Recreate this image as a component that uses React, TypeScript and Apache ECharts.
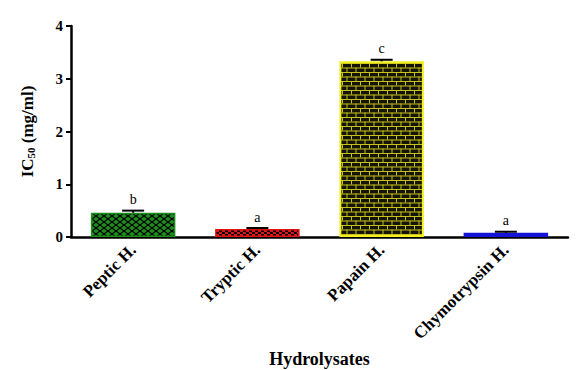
import React, { useEffect, useRef } from "react";
import * as echarts from "echarts";

const categories = ["Peptic H.", "Tryptic H.", "Papain H.", "Chymotrypsin H."];
const means = [0.46, 0.15, 3.33, 0.08];
const errors = [0.04, 0.02, 0.03, 0.02];
const letters = ["b", "a", "c", "a"];
const yTicks = [0, 1, 2, 3, 4];

const FONT = "'Liberation Serif', 'Times New Roman', serif";

function makeTile(w: number, h: number, draw: (c: CanvasRenderingContext2D) => void) {
  const cv = document.createElement("canvas");
  cv.width = w;
  cv.height = h;
  const ctx = cv.getContext("2d")!;
  draw(ctx);
  return cv;
}

function patterns() {
  const diamond = makeTile(8, 6, (c) => {
    c.fillStyle = "#1e8c1e";
    c.fillRect(0, 0, 8, 6);
    c.strokeStyle = "#000";
    c.lineWidth = 1.1;
    c.beginPath();
    c.moveTo(0, 0);
    c.lineTo(8, 6);
    c.moveTo(0, 6);
    c.lineTo(8, 0);
    c.stroke();
  });
  const checker = makeTile(6, 4, (c) => {
    c.fillStyle = "#e01414";
    c.fillRect(0, 0, 6, 4);
    c.fillStyle = "#000";
    c.fillRect(0, 0, 3, 2);
    c.fillRect(3, 2, 3, 2);
  });
  const brick = makeTile(9, 9, (c) => {
    c.fillStyle = "#151505";
    c.fillRect(0, 0, 9, 9);
    c.fillStyle = "#c8c020";
    c.fillRect(0, 0, 9, 1);
    c.fillRect(0, 4.5, 9, 1);
    c.fillRect(0, 0, 1, 4.5);
    c.fillRect(4.5, 4.5, 1, 4.5);
  });
  const dots = makeTile(7, 6, (c) => {
    c.fillStyle = "#1414d8";
    c.fillRect(0, 0, 7, 6);
    c.fillStyle = "#000050";
    c.fillRect(2, 2, 2, 2);
  });
  return [diamond, checker, brick, dots];
}

const borderColors = ["#1e8c1e", "#e01414", "#f4f020", "#1414d8"];

export default function App() {
  const ref = useRef<HTMLDivElement>(null);
  useEffect(() => {
    if (!ref.current) return;
    const chart = echarts.init(ref.current, null, { renderer: "svg" });
    const pats = patterns();
    const option: any = {
      animation: false,
      backgroundColor: "#fff",
      grid: { left: 71, right: 12, top: 26, bottom: 133, containLabel: false, outerBoundsMode: "none" },
      xAxis: {
        type: "category",
        data: categories,
        name: "Hydrolysates",
        nameLocation: "middle",
        nameGap: 112,
        nameTextStyle: { fontFamily: FONT, fontWeight: "bold", fontSize: 18, color: "#000" },
        axisLine: { lineStyle: { color: "#000", width: 2.5 } },
        axisTick: { alignWithLabel: true, length: 6, lineStyle: { color: "#000", width: 2.5 } },
        axisLabel: {
          rotate: 45,
          margin: 10,
          fontFamily: FONT,
          fontWeight: "bold",
          fontSize: 17,
          color: "#000",
        },
      },
      yAxis: {
        type: "value",
        min: 0,
        max: 4,
        interval: 1,
        name: "IC{sub|50} (mg/ml)",
        nameLocation: "middle",
        nameGap: 35,
        nameRotate: 90,
        nameTextStyle: {
          fontFamily: FONT,
          fontWeight: "bold",
          fontSize: 17,
          color: "#000",
          rich: {
            sub: { fontFamily: FONT, fontWeight: "bold", fontSize: 11, color: "#000", verticalAlign: "bottom", padding: [7, 0, 0, 0] },
          },
        },
        axisLine: { show: true, lineStyle: { color: "#000", width: 2.5 } },
        axisTick: { show: true, length: 5, lineStyle: { color: "#000", width: 2 } },
        splitLine: { show: false },
        axisLabel: {
          fontFamily: FONT,
          fontWeight: "bold",
          fontSize: 15,
          color: "#000",
          margin: 8,
          formatter: (v: number) => (yTicks.includes(v) ? String(v) : ""),
        },
      },
      series: [
        {
          type: "bar",
          barWidth: "68%",
          data: means.map((m, i) => ({
            value: m,
            itemStyle: {
              color: { image: pats[i], repeat: "repeat" },
              borderColor: borderColors[i],
              borderWidth: i === 2 ? 2 : 1.5,
            },
          })),
        },
        {
          type: "custom",
          z: 10,
          data: means.map((m, i) => [i, m, errors[i]]),
          renderItem: (params: any, api: any) => {
            const i = api.value(0);
            const m = api.value(1);
            const e = api.value(2);
            const base = api.coord([i, m]);
            const top = api.coord([i, m + e]);
            const half = 11;
            return {
              type: "group",
              children: [
                {
                  type: "line",
                  shape: { x1: top[0], y1: top[1], x2: base[0], y2: base[1] },
                  style: { stroke: "#000", lineWidth: 2 },
                },
                {
                  type: "line",
                  shape: { x1: top[0] - half, y1: top[1], x2: top[0] + half, y2: top[1] },
                  style: { stroke: "#000", lineWidth: 2 },
                },
                {
                  type: "text",
                  x: top[0],
                  y: top[1] - 4,
                  style: {
                    text: letters[params.dataIndex],
                    fill: "#000",
                    font: `14px ${FONT}`,
                    textAlign: "center",
                    textVerticalAlign: "bottom",
                  },
                },
              ],
            };
          },
        },
      ],
    };
    chart.setOption(option);
    return () => chart.dispose();
  }, []);
  return <div ref={ref} style={{ width: 580, height: 370, position: "absolute", left: 0, top: 0 }} />;
}
